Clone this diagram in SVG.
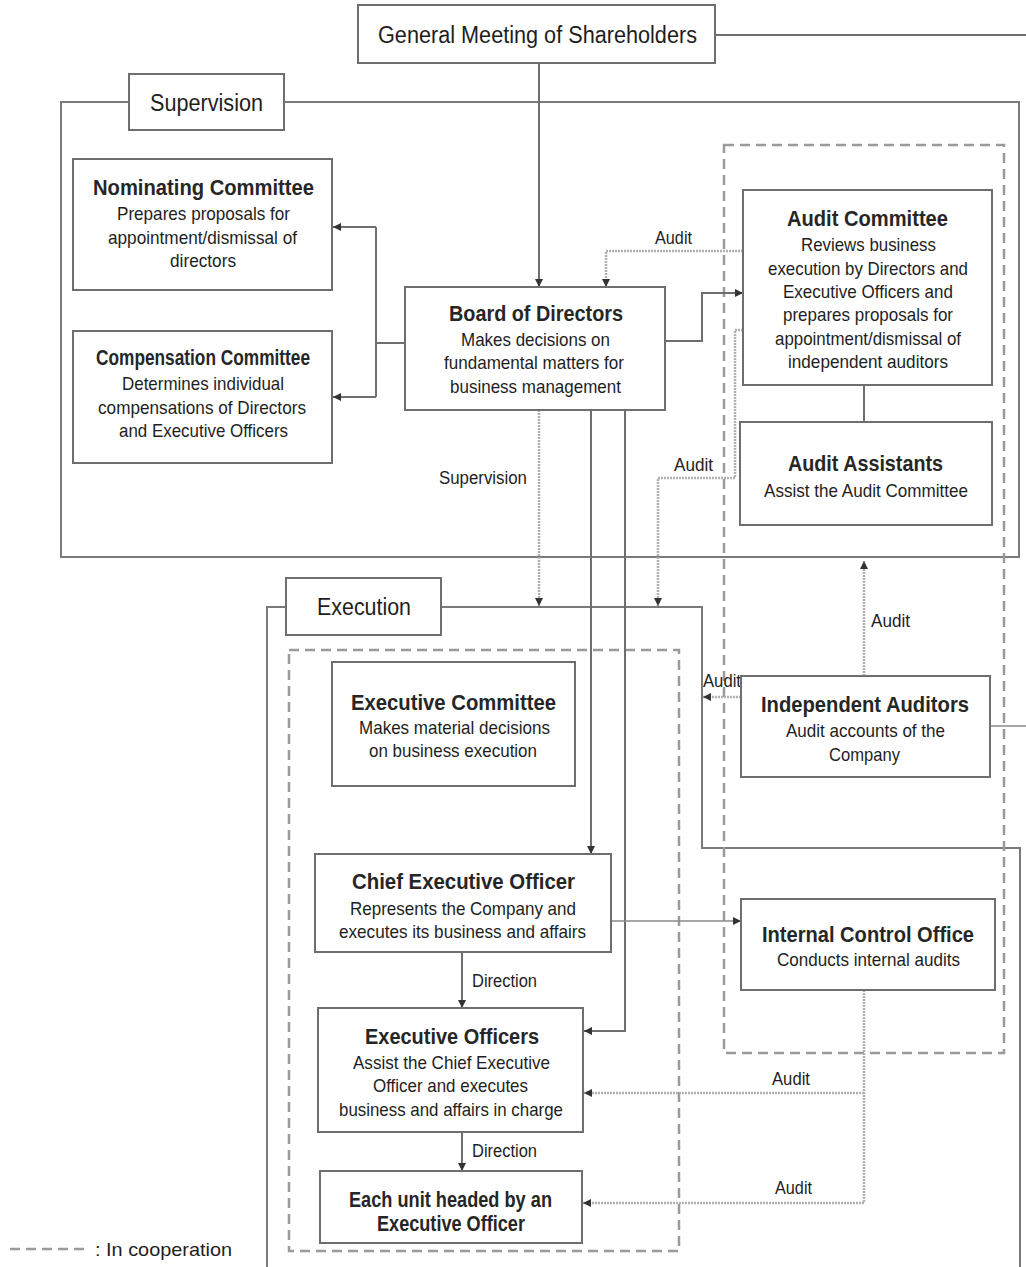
<svg xmlns="http://www.w3.org/2000/svg" width="1026" height="1267" viewBox="0 0 1026 1267">
<style>
text{font-family:"Liberation Sans",Arial,sans-serif;fill:#1e1e1e}
.t{font-size:22.5px;font-weight:bold;fill:#262626}
.lbl{font-size:23px}
.d{font-size:19px}
.s{font-size:18px}
.box{fill:#fff;stroke:#6e6e6e;stroke-width:2}
.cont{fill:none;stroke:#7a7a7a;stroke-width:2}
.dash{fill:none;stroke:#9a9a9a;stroke-width:2.5;stroke-dasharray:10 6}
.c{fill:none;stroke:#6e6e6e;stroke-width:2}
.thin{fill:none;stroke:#8a8a8a;stroke-width:1.5}
.dot{fill:none;stroke:#b0b0b0;stroke-width:2.5;stroke-dasharray:2 1}
</style>
<defs>
<marker id="ah" viewBox="0 0 10 10" refX="10" refY="5" markerWidth="8" markerHeight="8" markerUnits="userSpaceOnUse" orient="auto">
<path d="M0,0 L10,5 L0,10 z" fill="#333"/>
</marker>
</defs>
<rect width="1026" height="1267" fill="#fff"/>

<g id="containers">
<path class="cont" d="M129,102 H61 V557 H1019 V102 H284"/>
<path class="cont" d="M286,607 H267 V1267 M441,607 H702 V848 H1020 V1267"/>
<rect class="dash" x="724" y="145" width="280" height="908"/>
<rect class="dash" x="289" y="650" width="390" height="601"/>
</g>

<g id="connectors">
<path class="c" d="M539,63 V287" marker-end="url(#ah)"/>
<path class="c" d="M715,35 H1026"/>
<path class="c" d="M405,343 H376 M376,227 V397"/>
<path class="c" d="M376,227 H333" marker-end="url(#ah)"/>
<path class="c" d="M376,397 H333" marker-end="url(#ah)"/>
<path class="c" d="M665,341 H702 V293 H743" marker-end="url(#ah)"/>
<path class="dot" d="M743,251 H606 V287" marker-end="url(#ah)"/>
<path class="dot" d="M743,330 H735 V478 H658 V606" marker-end="url(#ah)"/>
<path class="dot" d="M539,410 V606" marker-end="url(#ah)"/>
<path class="c" d="M591,410 V854" marker-end="url(#ah)"/>
<path class="c" d="M625,410 V1031 H584" marker-end="url(#ah)"/>
<path class="c" d="M864,385 V422"/>
<path class="dot" d="M864,676 V561" marker-end="url(#ah)"/>
<path class="dot" d="M741,697 H703" marker-end="url(#ah)"/>
<path class="thin" d="M990,726 H1026"/>
<path class="thin" d="M611,921 H741" marker-end="url(#ah)"/>
<path class="c" d="M462,952 V1008" marker-end="url(#ah)"/>
<path class="c" d="M462,1132 V1171" marker-end="url(#ah)"/>
<path class="dot" d="M864,990 V1203"/>
<path class="dot" d="M864,1093 H584" marker-end="url(#ah)"/>
<path class="dot" d="M864,1203 H583" marker-end="url(#ah)"/>
</g>

<g id="connector-labels">
<text class="s" x="655" y="244" textLength="37" lengthAdjust="spacingAndGlyphs">Audit</text>
<text class="s" x="439" y="484" textLength="88" lengthAdjust="spacingAndGlyphs">Supervision</text>
<text class="s" x="674" y="471" textLength="39" lengthAdjust="spacingAndGlyphs">Audit</text>
<text class="s" x="871" y="627" textLength="39" lengthAdjust="spacingAndGlyphs">Audit</text>
<text class="s" x="703" y="687" textLength="38" lengthAdjust="spacingAndGlyphs">Audit</text>
<text class="s" x="472" y="987" textLength="65" lengthAdjust="spacingAndGlyphs">Direction</text>
<text class="s" x="472" y="1157" textLength="65" lengthAdjust="spacingAndGlyphs">Direction</text>
<text class="s" x="772" y="1085" textLength="38" lengthAdjust="spacingAndGlyphs">Audit</text>
<text class="s" x="775" y="1194" textLength="37" lengthAdjust="spacingAndGlyphs">Audit</text>
</g>

<g id="gms">
<rect class="box" x="358" y="5" width="357" height="58"/>
<text class="lbl" x="378" y="43" textLength="319" lengthAdjust="spacingAndGlyphs">General Meeting of Shareholders</text>
</g>

<g id="supervision-label">
<rect class="box" x="129" y="74" width="155" height="56"/>
<text class="lbl" x="150" y="111" textLength="113" lengthAdjust="spacingAndGlyphs">Supervision</text>
</g>

<g id="nominating">
<rect class="box" x="73" y="159" width="259" height="131"/>
<text class="t" x="93" y="195" textLength="221" lengthAdjust="spacingAndGlyphs">Nominating Committee</text>
<text class="d" x="117" y="220" textLength="173" lengthAdjust="spacingAndGlyphs">Prepares proposals for</text>
<text class="d" x="108" y="244" textLength="189" lengthAdjust="spacingAndGlyphs">appointment/dismissal of</text>
<text class="d" x="170" y="267" textLength="66" lengthAdjust="spacingAndGlyphs">directors</text>
</g>

<g id="compensation">
<rect class="box" x="73" y="331" width="259" height="132"/>
<text class="t" x="96" y="365" textLength="214" lengthAdjust="spacingAndGlyphs">Compensation Committee</text>
<text class="d" x="122" y="390" textLength="162" lengthAdjust="spacingAndGlyphs">Determines individual</text>
<text class="d" x="98" y="414" textLength="208" lengthAdjust="spacingAndGlyphs">compensations of Directors</text>
<text class="d" x="119" y="437" textLength="169" lengthAdjust="spacingAndGlyphs">and Executive Officers</text>
</g>

<g id="board">
<rect class="box" x="405" y="287" width="260" height="123"/>
<text class="t" x="449" y="321" textLength="174" lengthAdjust="spacingAndGlyphs">Board of Directors</text>
<text class="d" x="461" y="346" textLength="149" lengthAdjust="spacingAndGlyphs">Makes decisions on</text>
<text class="d" x="444" y="369" textLength="180" lengthAdjust="spacingAndGlyphs">fundamental matters for</text>
<text class="d" x="450" y="393" textLength="171" lengthAdjust="spacingAndGlyphs">business management</text>
</g>

<g id="audit-committee">
<rect class="box" x="743" y="190" width="249" height="195"/>
<text class="t" x="787" y="226" textLength="161" lengthAdjust="spacingAndGlyphs">Audit Committee</text>
<text class="d" x="801" y="251" textLength="135" lengthAdjust="spacingAndGlyphs">Reviews business</text>
<text class="d" x="768" y="275" textLength="200" lengthAdjust="spacingAndGlyphs">execution by Directors and</text>
<text class="d" x="783" y="298" textLength="170" lengthAdjust="spacingAndGlyphs">Executive Officers and</text>
<text class="d" x="783" y="321" textLength="170" lengthAdjust="spacingAndGlyphs">prepares proposals for</text>
<text class="d" x="775" y="345" textLength="186" lengthAdjust="spacingAndGlyphs">appointment/dismissal of</text>
<text class="d" x="788" y="368" textLength="160" lengthAdjust="spacingAndGlyphs">independent auditors</text>
</g>

<g id="audit-assistants">
<rect class="box" x="740" y="422" width="252" height="103"/>
<text class="t" x="788" y="471" textLength="155" lengthAdjust="spacingAndGlyphs">Audit Assistants</text>
<text class="d" x="764" y="497" textLength="204" lengthAdjust="spacingAndGlyphs">Assist the Audit Committee</text>
</g>

<g id="execution-label">
<rect class="box" x="286" y="578" width="155" height="57"/>
<text class="lbl" x="317" y="615" textLength="94" lengthAdjust="spacingAndGlyphs">Execution</text>
</g>

<g id="executive-committee">
<rect class="box" x="332" y="662" width="243" height="124"/>
<text class="t" x="351" y="710" textLength="205" lengthAdjust="spacingAndGlyphs">Executive Committee</text>
<text class="d" x="359" y="734" textLength="191" lengthAdjust="spacingAndGlyphs">Makes material decisions</text>
<text class="d" x="369" y="757" textLength="168" lengthAdjust="spacingAndGlyphs">on business execution</text>
</g>

<g id="independent-auditors">
<rect class="box" x="741" y="676" width="249" height="101"/>
<text class="t" x="761" y="712" textLength="208" lengthAdjust="spacingAndGlyphs">Independent Auditors</text>
<text class="d" x="786" y="737" textLength="159" lengthAdjust="spacingAndGlyphs">Audit accounts of the</text>
<text class="d" x="829" y="761" textLength="71" lengthAdjust="spacingAndGlyphs">Company</text>
</g>

<g id="ceo">
<rect class="box" x="315" y="854" width="296" height="98"/>
<text class="t" x="352" y="889" textLength="223" lengthAdjust="spacingAndGlyphs">Chief Executive Officer</text>
<text class="d" x="350" y="915" textLength="226" lengthAdjust="spacingAndGlyphs">Represents the Company and</text>
<text class="d" x="339" y="938" textLength="247" lengthAdjust="spacingAndGlyphs">executes its business and affairs</text>
</g>

<g id="internal-control">
<rect class="box" x="741" y="899" width="254" height="91"/>
<text class="t" x="762" y="942" textLength="212" lengthAdjust="spacingAndGlyphs">Internal Control Office</text>
<text class="d" x="777" y="966" textLength="183" lengthAdjust="spacingAndGlyphs">Conducts internal audits</text>
</g>

<g id="executive-officers">
<rect class="box" x="318" y="1008" width="265" height="124"/>
<text class="t" x="365" y="1044" textLength="174" lengthAdjust="spacingAndGlyphs">Executive Officers</text>
<text class="d" x="353" y="1069" textLength="197" lengthAdjust="spacingAndGlyphs">Assist the Chief Executive</text>
<text class="d" x="373" y="1092" textLength="155" lengthAdjust="spacingAndGlyphs">Officer and executes</text>
<text class="d" x="339" y="1116" textLength="224" lengthAdjust="spacingAndGlyphs">business and affairs in charge</text>
</g>

<g id="each-unit">
<rect class="box" x="320" y="1171" width="262" height="72"/>
<text class="t" x="349" y="1207" textLength="203" lengthAdjust="spacingAndGlyphs">Each unit headed by an</text>
<text class="t" x="377" y="1231" textLength="148" lengthAdjust="spacingAndGlyphs">Executive Officer</text>
</g>

<g id="legend">
<path class="dash" d="M10,1249 H85"/>
<text class="d" x="95" y="1256" textLength="137" lengthAdjust="spacingAndGlyphs">: In cooperation</text>
</g>
</svg>
